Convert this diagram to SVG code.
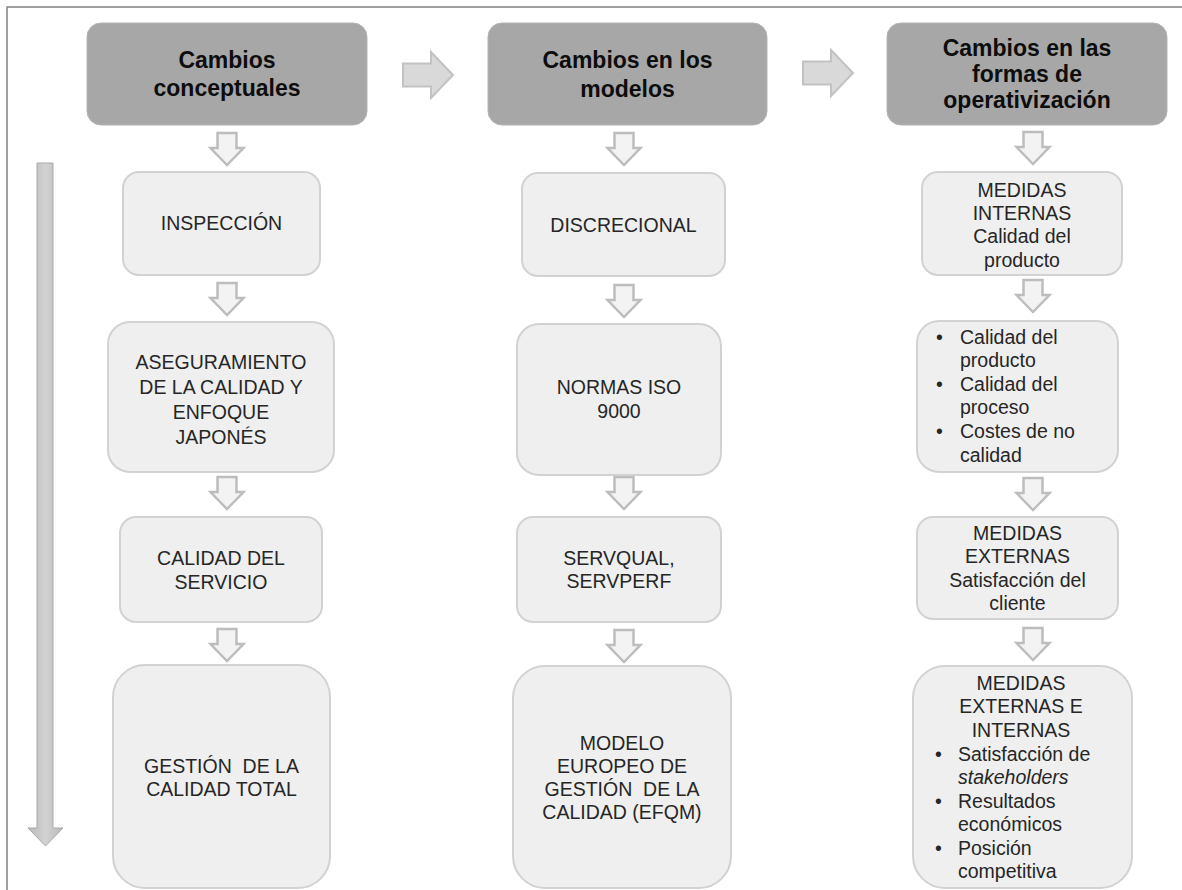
<svg xmlns="http://www.w3.org/2000/svg" width="1182" height="890" viewBox="0 0 1182 890">
  <defs>
    <style>
      .frame { stroke: #808080; stroke-width: 1.5; fill: none; }
      .head { fill: #a7a7a7; stroke: #b4b4b4; stroke-width: 1; }
      .box { fill: #efefef; stroke: #d2d2d2; stroke-width: 2; }
      .htxt { font-family: "Liberation Sans", Arial, sans-serif; font-weight: bold; font-size: 23px; fill: #0d0d0d; text-anchor: middle; }
      .txt { font-family: "Liberation Sans", Arial, sans-serif; font-size: 19.5px; fill: #262626; text-anchor: middle; }
      .ltxt { font-family: "Liberation Sans", Arial, sans-serif; font-size: 19.5px; fill: #262626; }
      .down { fill: #f3f3f3; stroke: #bdbdbd; stroke-width: 2.5; stroke-linejoin: miter; }
      .right { fill: #d9d9d9; stroke: #c2c2c2; stroke-width: 2; }
      .time { fill: url(#timeGrad); stroke: #a9a9a9; stroke-width: 1; }
    </style>
    <linearGradient id="timeGrad" x1="0" y1="0" x2="1" y2="0">
      <stop offset="0" stop-color="#b9b9b9"/>
      <stop offset="0.5" stop-color="#d2d2d2"/>
      <stop offset="1" stop-color="#b9b9b9"/>
    </linearGradient>
    <!-- outlined block arrow pointing down, origin at top centre -->
    <path id="arrowDown" d="M-9.5,0 H9.5 V15 H16.5 L0,32 L-16.5,15 H-9.5 Z"/>
    <!-- block arrow pointing right, origin at left middle -->
    <path id="arrowRight" d="M0,-11.5 H28 V-23 L50,0 L28,23 V11.5 H0 Z"/>
  </defs>

  <rect width="1182" height="890" fill="#ffffff"/>

  <!-- outer frame (top and left edges) -->
  <path class="frame" d="M7,890 V7 H1182"/>

  <!-- time axis -->
  <path id="timeline" class="time" d="M37,163 H53 V828 H63 L45.5,846 L28,828 H37 Z"/>

  <!-- connectors -->
  <g id="connectors">
    <use href="#arrowRight" class="right" transform="translate(403,75)"/>
    <use href="#arrowRight" class="right" transform="translate(803,73)"/>

    <use href="#arrowDown" class="down" transform="translate(227,133)"/>
    <use href="#arrowDown" class="down" transform="translate(227,283)"/>
    <use href="#arrowDown" class="down" transform="translate(227,477)"/>
    <use href="#arrowDown" class="down" transform="translate(227,629)"/>

    <use href="#arrowDown" class="down" transform="translate(624,133)"/>
    <use href="#arrowDown" class="down" transform="translate(624,285)"/>
    <use href="#arrowDown" class="down" transform="translate(624,477)"/>
    <use href="#arrowDown" class="down" transform="translate(624,630)"/>

    <use href="#arrowDown" class="down" transform="translate(1033,132)"/>
    <use href="#arrowDown" class="down" transform="translate(1033,280)"/>
    <use href="#arrowDown" class="down" transform="translate(1033,478)"/>
    <use href="#arrowDown" class="down" transform="translate(1033,628)"/>
  </g>

  <!-- column headers -->
  <g id="head-conceptual">
    <rect class="head" x="87" y="23" width="280" height="102" rx="14"/>
    <text class="htxt" x="227" y="68">Cambios</text>
    <text class="htxt" x="227" y="96">conceptuales</text>
  </g>
  <g id="head-modelos">
    <rect class="head" x="488" y="23" width="279" height="102" rx="14"/>
    <text class="htxt" x="627.5" y="68">Cambios en los</text>
    <text class="htxt" x="627.5" y="97">modelos</text>
  </g>
  <g id="head-operativizacion">
    <rect class="head" x="887" y="23" width="280" height="102" rx="14"/>
    <text class="htxt" x="1027" y="56">Cambios en las</text>
    <text class="htxt" x="1027" y="82">formas de</text>
    <text class="htxt" x="1027" y="108">operativización</text>
  </g>

  <!-- column 1: conceptual changes -->
  <g id="inspeccion">
    <rect class="box" x="123" y="172" width="197" height="103" rx="16"/>
    <text class="txt" x="221.5" y="230">INSPECCIÓN</text>
  </g>
  <g id="aseguramiento">
    <rect class="box" x="108" y="322" width="226" height="150" rx="22"/>
    <text class="txt" x="221" y="369">ASEGURAMIENTO</text>
    <text class="txt" x="221" y="394">DE LA CALIDAD Y</text>
    <text class="txt" x="221" y="419">ENFOQUE</text>
    <text class="txt" x="221" y="444">JAPONÉS</text>
  </g>
  <g id="calidad-servicio">
    <rect class="box" x="120" y="517" width="202" height="105" rx="16"/>
    <text class="txt" x="221" y="564.5">CALIDAD DEL</text>
    <text class="txt" x="221" y="589">SERVICIO</text>
  </g>
  <g id="calidad-total">
    <rect class="box" x="113" y="665" width="217" height="223" rx="32"/>
    <text class="txt" x="221.5" y="773" xml:space="preserve">GESTIÓN  DE LA</text>
    <text class="txt" x="221.5" y="796">CALIDAD TOTAL</text>
  </g>

  <!-- column 2: models -->
  <g id="discrecional">
    <rect class="box" x="522" y="173" width="203" height="103" rx="16"/>
    <text class="txt" x="623.5" y="232">DISCRECIONAL</text>
  </g>
  <g id="iso9000">
    <rect class="box" x="517" y="324" width="204" height="151" rx="22"/>
    <text class="txt" x="619" y="393.5">NORMAS ISO</text>
    <text class="txt" x="619" y="418">9000</text>
  </g>
  <g id="servqual">
    <rect class="box" x="517" y="517" width="204" height="105" rx="16"/>
    <text class="txt" x="619" y="564.5">SERVQUAL,</text>
    <text class="txt" x="619" y="588">SERVPERF</text>
  </g>
  <g id="efqm">
    <rect class="box" x="513" y="666" width="218" height="222" rx="32"/>
    <text class="txt" x="622" y="750">MODELO</text>
    <text class="txt" x="622" y="773">EUROPEO DE</text>
    <text class="txt" x="622" y="796" xml:space="preserve">GESTIÓN  DE LA</text>
    <text class="txt" x="622" y="819">CALIDAD (EFQM)</text>
  </g>

  <!-- column 3: measurement forms -->
  <g id="medidas-internas">
    <rect class="box" x="922" y="172" width="200" height="103" rx="16"/>
    <text class="txt" x="1022" y="197">MEDIDAS</text>
    <text class="txt" x="1022" y="220">INTERNAS</text>
    <text class="txt" x="1022" y="243">Calidad del</text>
    <text class="txt" x="1022" y="267">producto</text>
  </g>
  <g id="calidad-items">
    <rect class="box" x="917" y="321" width="201" height="151" rx="22"/>
    <text class="ltxt" x="936" y="344">•</text>
    <text class="ltxt" x="960" y="344">Calidad del</text>
    <text class="ltxt" x="960" y="367">producto</text>
    <text class="ltxt" x="936" y="391">•</text>
    <text class="ltxt" x="960" y="391">Calidad del</text>
    <text class="ltxt" x="960" y="414">proceso</text>
    <text class="ltxt" x="936" y="438">•</text>
    <text class="ltxt" x="960" y="438">Costes de no</text>
    <text class="ltxt" x="960" y="462">calidad</text>
  </g>
  <g id="medidas-externas">
    <rect class="box" x="917" y="517" width="201" height="102" rx="16"/>
    <text class="txt" x="1017.5" y="540">MEDIDAS</text>
    <text class="txt" x="1017.5" y="563">EXTERNAS</text>
    <text class="txt" x="1017.5" y="587">Satisfacción del</text>
    <text class="txt" x="1017.5" y="610">cliente</text>
  </g>
  <g id="medidas-mixtas">
    <rect class="box" x="913" y="666" width="219" height="222" rx="32"/>
    <text class="txt" x="1021" y="690">MEDIDAS</text>
    <text class="txt" x="1021" y="713">EXTERNAS E</text>
    <text class="txt" x="1021" y="737">INTERNAS</text>
    <text class="ltxt" x="935" y="761">•</text>
    <text class="ltxt" x="958" y="761">Satisfacción de</text>
    <text class="ltxt" x="958" y="784" font-style="italic">stakeholders</text>
    <text class="ltxt" x="935" y="808">•</text>
    <text class="ltxt" x="958" y="808">Resultados</text>
    <text class="ltxt" x="958" y="831">económicos</text>
    <text class="ltxt" x="935" y="855">•</text>
    <text class="ltxt" x="958" y="855">Posición</text>
    <text class="ltxt" x="958" y="878">competitiva</text>
  </g>
</svg>
